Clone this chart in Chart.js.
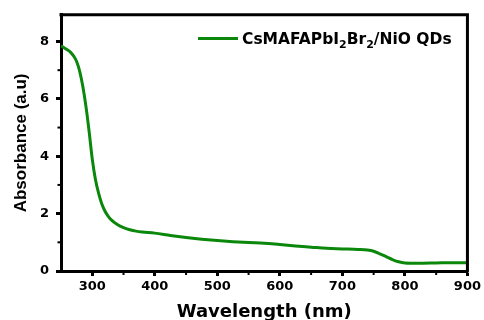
<!DOCTYPE html>
<html>
<head>
<meta charset="utf-8">
<script src="https://cdn.jsdelivr.net/npm/chart.js@4"></script>
<style>
  html, body { margin: 0; padding: 0; background: #fff; }
  #wrap { width: 484px; height: 320px; }
</style>
</head>
<body>
<div id="wrap"><canvas id="grafico" width="484" height="320"></canvas></div>
<script>
// dados
const wavelength = [250, 255, 260, 265, 270, 275, 280, 285, 290, 295, 300, 305, 310, 315, 320, 325,
    330, 340, 350, 360, 370, 380, 400, 425, 450, 475, 500, 525, 550, 575, 600, 625, 650, 675,
    700, 725, 740, 750, 760, 770, 780, 790, 800, 820, 850, 875, 900];
const absorbance = [7.85, 7.78, 7.71, 7.63, 7.5, 7.3, 6.95, 6.42, 5.72, 4.86, 3.9, 3.2, 2.72, 2.35, 2.1, 1.92,
    1.79, 1.62, 1.51, 1.44, 1.39, 1.36, 1.32, 1.24, 1.17, 1.11, 1.06, 1.02, 0.99, 0.97, 0.92, 0.87, 0.83, 0.79,
    0.77, 0.75, 0.73, 0.69, 0.6, 0.5, 0.4, 0.32, 0.28, 0.27, 0.28, 0.29, 0.29];
const xTicks = [300, 400, 500, 600, 700, 800, 900];
const xMinorTicks = [350, 450, 550, 650, 750, 850];
const yTicks = [0, 2, 4, 6, 8];
const yMinorTicks = [1, 3, 5, 7];

const verde = "#0b870b";

// moldura de cima e da direita + ticks menores
const moldura = {
    id: "moldura",
    afterDraw(chart) {
        const { ctx, chartArea: a, scales } = chart;
        ctx.save();
        ctx.strokeStyle = "#000";
        ctx.lineWidth = 3;
        ctx.beginPath();
        ctx.moveTo(a.left - 1.5, a.top);
        ctx.lineTo(a.right + 1.5, a.top);
        ctx.moveTo(a.right, a.top);
        ctx.lineTo(a.right, a.bottom + 1.5);
        ctx.stroke();

        ctx.lineWidth = 2;
        xMinorTicks.forEach(v => {
            const px = scales.x.getPixelForValue(v);
            ctx.beginPath();
            ctx.moveTo(px, a.bottom);
            ctx.lineTo(px, a.bottom + 4);
            ctx.stroke();
        });
        yMinorTicks.forEach(v => {
            const py = scales.y.getPixelForValue(v);
            ctx.beginPath();
            ctx.moveTo(a.left, py);
            ctx.lineTo(a.left - 3.5, py);
            ctx.stroke();
        });
        ctx.restore();
    }
};

// legenda com subscritos
const legenda = {
    id: "legenda",
    afterDraw(chart) {
        const ctx = chart.ctx;
        const partes = [["CsMAFAPbI", false], ["2", true], ["Br", false], ["2", true], ["/NiO QDs", false]];
        ctx.save();
        ctx.strokeStyle = verde;
        ctx.lineWidth = 3;
        ctx.beginPath();
        ctx.moveTo(198, 38.5);
        ctx.lineTo(238, 38.5);
        ctx.stroke();
        ctx.fillStyle = "#000";
        ctx.textBaseline = "alphabetic";
        let x = 242;
        partes.forEach(([txt, sub]) => {
            ctx.font = sub ? "bold 11px 'DejaVu Sans'" : "bold 15.5px 'DejaVu Sans'";
            ctx.fillText(txt, x, sub ? 47.5 : 44);
            x += ctx.measureText(txt).width;
        });
        ctx.restore();
    }
};

const ctx = document.getElementById("grafico").getContext("2d");
new Chart(ctx, {
    type: "line",
    data: {
        datasets: [{
            label: "CsMAFAPbI2Br2/NiO QDs",
            data: wavelength.map((w, i) => ({ x: w, y: absorbance[i] })),
            borderColor: verde,
            borderWidth: 3,
            pointRadius: 0,
            cubicInterpolationMode: "monotone",
            fill: false
        }]
    },
    options: {
        responsive: false,
        animation: false,
        layout: { autoPadding: false, padding: { top: 12, right: 14, left: 0, bottom: 0 } },
        plugins: {
            legend: { display: false },
            tooltip: { enabled: false }
        },
        scales: {
            x: {
                type: "linear",
                min: 250,
                max: 900,
                afterBuildTicks: s => { s.ticks = xTicks.map(v => ({ value: v })); },
                afterFit: s => { s.height = 49; },
                grid: { drawOnChartArea: false, tickLength: 5, tickWidth: 3, tickColor: "#000" },
                border: { display: true, width: 3, color: "#000" },
                ticks: {
                    color: "#000",
                    padding: 3,
                    maxRotation: 0,
                    font: { family: "'DejaVu Sans'", size: 13, weight: "bold" }
                },
                title: {
                    display: true,
                    text: "Wavelength (nm)",
                    color: "#000",
                    padding: { top: 0, bottom: -3 },
                    font: { family: "'DejaVu Sans'", size: 18, weight: "bold" }
                }
            },
            y: {
                min: 0,
                max: 8.93,
                afterBuildTicks: s => { s.ticks = yTicks.map(v => ({ value: v })); },
                afterFit: s => { s.width = 61; },
                grid: { drawOnChartArea: false, tickLength: 5, tickWidth: 3, tickColor: "#000" },
                border: { display: true, width: 3, color: "#000" },
                ticks: {
                    color: "#000",
                    padding: 7,
                    font: { family: "'DejaVu Sans'", size: 13, weight: "bold" }
                },
                title: {
                    display: true,
                    text: "Absorbance (a.u)",
                    color: "#000",
                    padding: { top: 11, bottom: 0 },
                    font: { family: "'Liberation Sans'", size: 17, weight: "bold" }
                }
            }
        }
    },
    plugins: [moldura, legenda]
});
</script>
</body>
</html>
